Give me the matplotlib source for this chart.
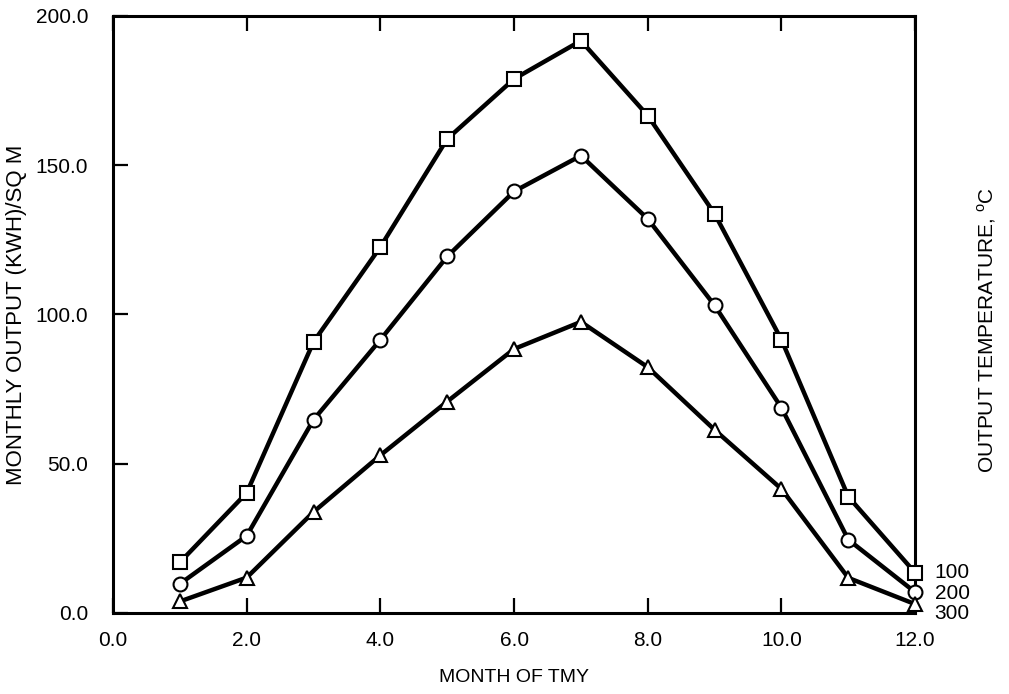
import matplotlib.pyplot as plt
from matplotlib.ticker import FormatStrFormatter

plt.rcParams['font.family'] = ['Liberation Sans', 'DejaVu Sans']

meses = [1, 2, 3, 4, 5, 6, 7, 8, 9, 10, 11, 12]
temperaturas = ["100", "200", "300"]
saida100 = [16.9, 40.2, 90.8, 122.6, 158.8, 178.9, 191.7, 166.6, 133.7, 91.5, 38.9, 13.4]
saida200 = [9.7, 25.8, 64.7, 91.5, 119.4, 141.2, 153.2, 132.0, 103.0, 68.7, 24.5, 6.9]
saida300 = [3.8, 11.8, 33.8, 52.8, 70.8, 88.4, 97.5, 82.3, 61.3, 41.5, 11.7, 2.9]

fig = plt.figure(figsize=(10.09, 6.94), dpi=100)
ax = fig.add_axes([0.112, 0.117, 0.795, 0.860])

series = [(saida100, 's', 0), (saida200, 'o', -1), (saida300, '^', -7)]
for (valores, marcador, desloc), rotulo in zip(series, temperaturas):
    ax.plot(meses, valores, color='black', linewidth=3.2, marker=marcador,
            markersize=10, markerfacecolor='white', markeredgecolor='black',
            markeredgewidth=1.5, clip_on=False, zorder=3)
    ax.annotate(rotulo, xy=(meses[-1], valores[-1]), xytext=(14, desloc),
                textcoords='offset points', fontsize=15, va='center', ha='left',
                annotation_clip=False)

ax.set_xlim(0, 12)
ax.set_ylim(0, 200)
ax.set_xticks([0, 2, 4, 6, 8, 10, 12])
ax.set_yticks([0, 50, 100, 150, 200])
ax.xaxis.set_major_formatter(FormatStrFormatter('%.1f'))
ax.yaxis.set_major_formatter(FormatStrFormatter('%.1f'))
ax.tick_params(axis='both', direction='in', length=11, width=1.6, labelsize=15)
ax.tick_params(axis='x', top=True, pad=13)
ax.tick_params(axis='y', right=False, pad=18)

for lado in ax.spines.values():
    lado.set_linewidth(2.2)

ax.set_xlabel("MONTH OF TMY", fontsize=14, labelpad=14)
ax.set_ylabel("MONTHLY OUTPUT (KWH)/SQ M", fontsize=16, labelpad=6)

fig.text(0.978, 0.525, "OUTPUT TEMPERATURE, $^\\mathregular{o}$C", rotation=90,
         fontsize=15, ha='center', va='center')

fig.savefig("out.png", dpi=100)
